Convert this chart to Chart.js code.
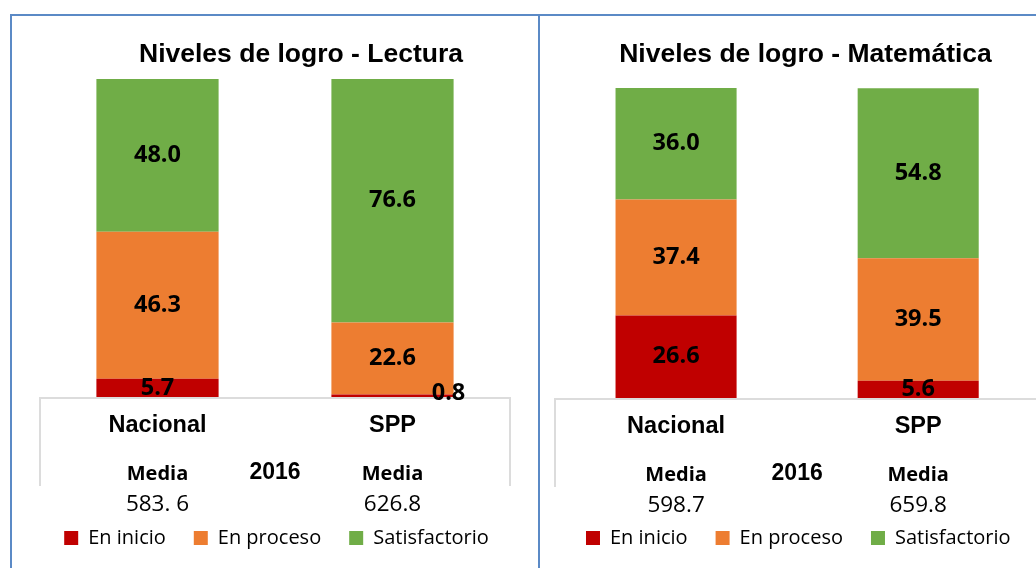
<!DOCTYPE html>
<html>
<head>
<meta charset="utf-8">
<script src="https://cdn.jsdelivr.net/npm/chart.js@4.4.1/dist/chart.umd.min.js"></script>
<style>
  html, body { margin: 0; padding: 0; background: #fff; }
  body { width: 1036px; height: 568px; overflow: hidden; position: relative; }
  .panel { position: absolute; box-sizing: border-box; border: 2px solid #5b8ac6; }
  .wrap { position: absolute; top: 0; height: 568px; }
</style>
</head>
<body>
<div class="panel" style="left:10px; top:14px; width:530px; height:600px;"></div>
<div class="panel" style="left:538px; top:14px; width:600px; height:600px; border-right:none;"></div>
<div class="wrap" style="left:0; width:540px;"><canvas id="chartLectura"></canvas></div>
<div class="wrap" style="left:540px; width:520px;"><canvas id="chartMatematica"></canvas></div>
<script>
// ---- data ----
const categories = ['Nacional', 'SPP'];
const seriesLabels = ['En inicio', 'En proceso', 'Satisfactorio'];
const seriesColors = ['#c00000', '#ed7d31', '#70ad47'];

const lecturaEnInicio = [5.7, 0.8];
const lecturaEnProceso = [46.3, 22.6];
const lecturaSatisfactorio = [48.0, 76.6];
const lecturaMedia = ['583. 6', '626.8'];

const matematicaEnInicio = [26.6, 5.6];
const matematicaEnProceso = [37.4, 39.5];
const matematicaSatisfactorio = [36.0, 54.8];
const matematicaMedia = ['598.7', '659.8'];

const yearLabel = '2016';
const mediaLabel = 'Media';
const titleLectura = 'Niveles de logro - Lectura';
const titleMatematica = 'Niveles de logro - Matemática';

// ---- drawing ----
const LABEL_FONT = 'bold 23.5px "Open Sans"';

function makeChart(canvasId, series, media, title, lay) {
  const overlay = {
    id: 'overlay_' + canvasId,
    afterDatasetsDraw(chart) {
      const { ctx, chartArea } = chart;
      ctx.save();
      ctx.beginPath();
      ctx.rect(0, 0, chart.width, chartArea.bottom);
      ctx.clip();
      ctx.font = LABEL_FONT;
      ctx.fillStyle = '#000';
      ctx.textAlign = 'center';
      ctx.textBaseline = 'middle';
      chart.data.datasets.forEach((ds, di) => {
        chart.getDatasetMeta(di).data.forEach((bar, i) => {
          if (lay.nudge && lay.nudge.ds === di && lay.nudge.i === i) return;
          ctx.fillText(ds.data[i].toFixed(1), bar.x, (bar.y + bar.base) / 2);
        });
      });
      ctx.restore();
    },
    afterDraw(chart) {
      const { ctx, chartArea } = chart;
      const xs = chart.scales.x;
      const b = chartArea.bottom;
      ctx.save();
      // table frame under the bars
      ctx.strokeStyle = '#dcdcdc';
      ctx.lineWidth = 2;
      ctx.beginPath();
      ctx.moveTo(chartArea.left, b + 89);
      ctx.lineTo(chartArea.left, b + 1);
      ctx.lineTo(chartArea.right, b + 1);
      ctx.lineTo(chartArea.right, b + 89);
      ctx.stroke();
      // title
      ctx.fillStyle = '#000';
      ctx.textAlign = 'center';
      ctx.textBaseline = 'alphabetic';
      ctx.font = 'bold 26.5px "Liberation Sans"';
      ctx.fillText(title, lay.titleX, 61.5);
      // year
      ctx.font = 'bold 23px "Liberation Sans"';
      ctx.fillText(yearLabel, (chartArea.left + chartArea.right) / 2, b + 82);
      // media labels and values
      categories.forEach((c, i) => {
        const x = xs.getPixelForValue(i);
        ctx.font = 'bold 20px "Open Sans"';
        ctx.fillText(mediaLabel, x, b + 82.5);
        ctx.font = '22.5px "Open Sans"';
        ctx.fillText(media[i], x, b + 113.5);
      });
      // nudged label (tiny segment)
      if (lay.nudge) {
        const n = lay.nudge;
        const bar = chart.getDatasetMeta(n.ds).data[n.i];
        ctx.font = LABEL_FONT;
        ctx.textBaseline = 'middle';
        ctx.fillText(chart.data.datasets[n.ds].data[n.i].toFixed(1), bar.x + n.dx, (bar.y + bar.base) / 2 + n.dy);
      }
      ctx.restore();
    }
  };

  return new Chart(document.getElementById(canvasId), {
    type: 'bar',
    data: {
      labels: categories,
      datasets: series.map((d, k) => ({
        label: seriesLabels[k],
        data: d,
        backgroundColor: seriesColors[k],
        borderWidth: 0,
        barPercentage: lay.barPct,
        categoryPercentage: 1
      }))
    },
    options: {
      responsive: true,
      maintainAspectRatio: false,
      animation: false,
      devicePixelRatio: 1,
      layout: { padding: { left: lay.padL, right: lay.padR, top: lay.top, bottom: 10 } },
      scales: {
        x: {
          stacked: true,
          grid: { display: false, drawTicks: false },
          border: { display: false },
          ticks: { color: '#000', padding: lay.tickPad, font: { family: 'Liberation Sans', size: 23.5, weight: 'bold' } },
          afterFit(s) { s.height = lay.xH; }
        },
        y: {
          stacked: true, min: 0, max: 100,
          grid: { display: false, drawTicks: false },
          border: { display: false },
          ticks: { display: false },
          afterFit(s) { s.width = lay.axL; }
        },
        y2: {
          type: 'linear', position: 'right', min: 0, max: 1,
          grid: { display: false, drawTicks: false },
          border: { display: false },
          ticks: { display: false },
          afterFit(s) { s.width = lay.axR; }
        }
      },
      plugins: {
        legend: {
          position: 'bottom',
          labels: { boxWidth: 14, boxHeight: 14, padding: 28, color: '#000', font: { family: 'Open Sans', size: 20 } }
        },
        tooltip: { enabled: false },
        title: { display: false }
      }
    },
    plugins: [overlay]
  });
}

makeChart('chartLectura',
  [lecturaEnInicio, lecturaEnProceso, lecturaSatisfactorio],
  lecturaMedia, titleLectura,
  { padL: 13, padR: 0, axL: 27, axR: 30, top: 79, xH: 103, tickPad: 14, barPct: 0.52, titleX: 301,
    nudge: { ds: 0, i: 1, dx: 56, dy: -2 } });

makeChart('chartMatematica',
  [matematicaEnInicio, matematicaEnProceso, matematicaSatisfactorio],
  matematicaMedia, titleMatematica,
  { padL: 0, padR: 3.4, axL: 15, axR: 17.35, top: 88, xH: 102, tickPad: 14.5, barPct: 0.5, titleX: 265.5,
    nudge: null });
</script>
</body>
</html>
